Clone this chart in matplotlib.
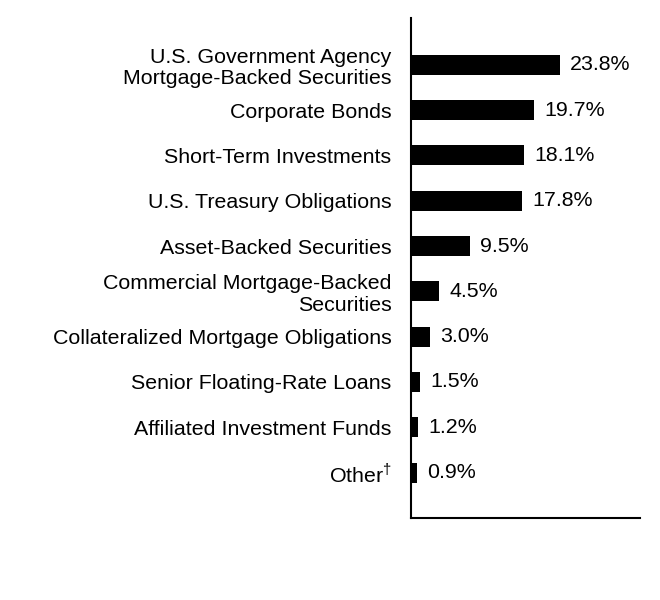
import matplotlib
matplotlib.use('Agg')
import matplotlib.pyplot as plt

plt.rcParams['font.family'] = ['Liberation Sans', 'DejaVu Sans']
plt.rcParams['mathtext.fontset'] = 'custom'
plt.rcParams['mathtext.rm'] = 'Liberation Sans'

categories = [
    'U.S. Government Agency\nMortgage-Backed Securities',
    'Corporate Bonds',
    'Short-Term Investments',
    'U.S. Treasury Obligations',
    'Asset-Backed Securities',
    'Commercial Mortgage-Backed\nSecurities',
    'Collateralized Mortgage Obligations',
    'Senior Floating-Rate Loans',
    'Affiliated Investment Funds',
    'Other$^{\u2020}$',
]
values = [23.8, 19.7, 18.1, 17.8, 9.5, 4.5, 3.0, 1.5, 1.2, 0.9]
value_labels = ['23.8%', '19.7%', '18.1%', '17.8%', '9.5%', '4.5%', '3.0%', '1.5%', '1.2%', '0.9%']

fig = plt.figure(figsize=(6.6, 6.0), dpi=100)
ax = fig.add_axes([0.6227, 0.1367, 0.3470, 0.8333])

ypos = list(range(len(values)))
ax.barh(ypos, values, height=0.44, color='black')

for y, v, lab in zip(ypos, values, value_labels):
    ax.text(v + 1.6, y, lab, va='center', ha='left', fontsize=15.4)

ax.set_xlim(0, 36.6)
ax.set_ylim(10.0, -1.03)
ax.set_yticks(ypos)
ax.set_yticklabels(categories, fontsize=15.4, linespacing=1.15)
ax.tick_params(axis='y', length=0, pad=14)
ax.set_xticks([])

for side in ['top', 'right']:
    ax.spines[side].set_visible(False)
for side in ['left', 'bottom']:
    ax.spines[side].set_linewidth(1.5)

plt.savefig('out.png', dpi=100, facecolor='white')
plt.close()
